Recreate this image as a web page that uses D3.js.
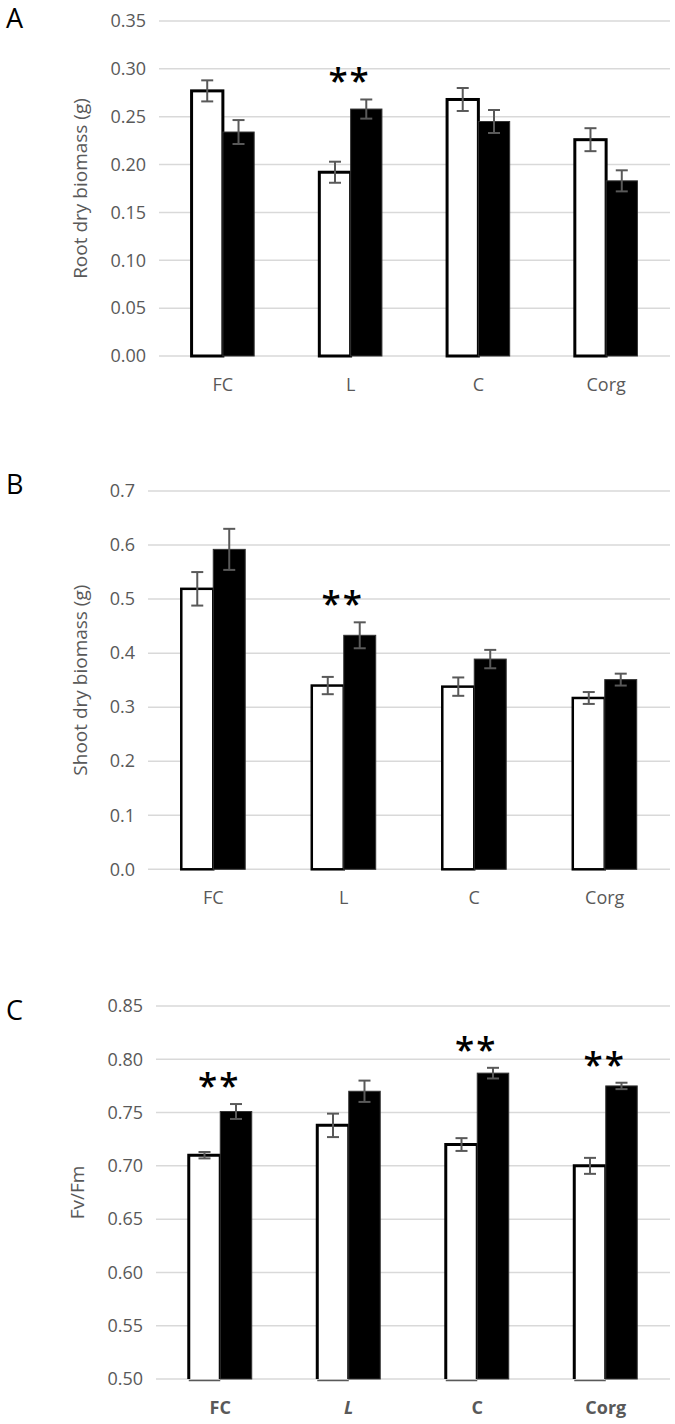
<!DOCTYPE html>
<html><head><meta charset="utf-8">
<script src="https://cdn.jsdelivr.net/npm/d3@7"></script>
<style>
html,body{margin:0;padding:0;background:#fff;}
svg{display:block;font-family:"Open Sans",sans-serif;}
</style></head>
<body>
<svg id="chart" width="675" height="1424"></svg>
<script>
// ---- data ----
const categories = ["FC", "L", "C", "Corg"];

const rootWhite = [0.277, 0.192, 0.268, 0.226];
const rootWhiteErr = [0.011, 0.011, 0.012, 0.012];
const rootBlack = [0.234, 0.258, 0.245, 0.183];
const rootBlackErr = [0.0125, 0.010, 0.012, 0.011];
const rootSignif = [false, true, false, false];
const rootTicks = [0, 0.05, 0.10, 0.15, 0.20, 0.25, 0.30, 0.35];

const shootWhite = [0.519, 0.340, 0.338, 0.317];
const shootWhiteErr = [0.031, 0.016, 0.017, 0.011];
const shootBlack = [0.592, 0.433, 0.389, 0.351];
const shootBlackErr = [0.038, 0.024, 0.017, 0.011];
const shootSignif = [false, true, false, false];
const shootTicks = [0, 0.1, 0.2, 0.3, 0.4, 0.5, 0.6, 0.7];

const fvfmWhite = [0.710, 0.738, 0.720, 0.700];
const fvfmWhiteErr = [0.003, 0.011, 0.006, 0.0075];
const fvfmBlack = [0.751, 0.770, 0.787, 0.775];
const fvfmBlackErr = [0.007, 0.010, 0.005, 0.003];
const fvfmSignif = [true, false, true, true];
const fvfmTicks = [0.50, 0.55, 0.60, 0.65, 0.70, 0.75, 0.80, 0.85];

const svg = d3.select("#chart");
const grey = "#595959";

function panel(cfg) {
  const g = svg.append("g");
  const x = d3.scaleBand().domain(categories).range([cfg.left, cfg.right]).padding(0);
  const y = d3.scaleLinear().domain([cfg.ticks[0], cfg.ticks[cfg.ticks.length - 1]]).range([cfg.bottom, cfg.top]);
  const bw = x.bandwidth() * 0.245;
  const y0 = y(cfg.ticks[0]);

  // gridlines
  g.selectAll("line.grid").data(cfg.ticks).join("line")
    .attr("x1", cfg.left).attr("x2", cfg.right)
    .attr("y1", d => y(d)).attr("y2", d => y(d))
    .attr("stroke", "#d9d9d9").attr("stroke-width", 1.5);

  // y axis tick labels via d3 axis
  const ax = g.append("g").attr("transform", `translate(${cfg.left},0)`)
    .call(d3.axisLeft(y).tickValues(cfg.ticks).tickFormat(d3.format(cfg.fmt)).tickSize(0).tickPadding(13));
  ax.select(".domain").remove();
  ax.selectAll("text").attr("font-size", 18).attr("fill", grey).attr("font-family", "Open Sans");

  const rows = categories.map((c, i) => ({
    c, w: cfg.white[i], we: cfg.whiteErr[i], b: cfg.black[i], be: cfg.blackErr[i], s: cfg.signif[i]
  }));
  const cx = d => x(d.c) + x.bandwidth() / 2;

  // white bars
  if (cfg.underline) {
    g.selectAll("rect.w").data(rows).join("rect")
      .attr("x", d => cx(d) - bw).attr("width", bw)
      .attr("y", d => y(d.w)).attr("height", d => y0 - y(d.w))
      .attr("fill", "#fff");
    g.selectAll("path.w").data(rows).join("path")
      .attr("d", d => `M${cx(d) - bw},${y0}V${y(d.w)}H${cx(d)}V${y0}`)
      .attr("fill", "none").attr("stroke", "#000").attr("stroke-width", cfg.stroke);
    g.selectAll("line.ul").data(rows).join("line")
      .attr("x1", d => cx(d) - bw).attr("x2", d => cx(d))
      .attr("y1", y0 + 1.5).attr("y2", y0 + 1.5)
      .attr("stroke", grey).attr("stroke-width", 1.5);
  } else {
    g.selectAll("rect.w").data(rows).join("rect")
      .attr("x", d => cx(d) - bw).attr("width", bw)
      .attr("y", d => y(d.w)).attr("height", d => y0 - y(d.w))
      .attr("fill", "#fff").attr("stroke", "#000").attr("stroke-width", cfg.stroke);
  }
  // black bars
  g.selectAll("rect.b").data(rows).join("rect")
    .attr("x", d => cx(d)).attr("width", bw)
    .attr("y", d => y(d.b)).attr("height", d => y0 - y(d.b))
    .attr("fill", "#000").attr("stroke", "#333").attr("stroke-width", 1);

  // error bars
  const errs = [];
  rows.forEach(d => {
    errs.push({ x: cx(d) - bw / 2, v: d.w, e: d.we });
    errs.push({ x: cx(d) + bw / 2, v: d.b, e: d.be });
  });
  const eg = g.selectAll("g.err").data(errs).join("g").attr("stroke", grey).attr("stroke-width", 2);
  eg.append("line").attr("x1", d => d.x).attr("x2", d => d.x).attr("y1", d => y(d.v - d.e)).attr("y2", d => y(d.v + d.e));
  eg.append("line").attr("x1", d => d.x - 6).attr("x2", d => d.x + 6).attr("y1", d => y(d.v - d.e)).attr("y2", d => y(d.v - d.e));
  eg.append("line").attr("x1", d => d.x - 6).attr("x2", d => d.x + 6).attr("y1", d => y(d.v + d.e)).attr("y2", d => y(d.v + d.e));

  // significance stars
  g.selectAll("text.star").data(rows.filter(d => d.s)).join("text")
    .attr("x", d => cx(d) - 1).attr("y", d => y(d.b + d.be) - 6)
    .attr("text-anchor", "middle").attr("font-size", 35).attr("font-weight", 600)
    .attr("letter-spacing", 2).attr("font-family", "Open Sans")
    .text("**");

  // x labels
  g.selectAll("text.xl").data(rows).join("text")
    .attr("x", d => cx(d)).attr("y", cfg.bottom + 28)
    .attr("text-anchor", "middle").attr("dominant-baseline", "central")
    .attr("font-size", 18).attr("fill", grey)
    .attr("font-weight", cfg.bold ? 700 : 400)
    .attr("font-style", d => (cfg.bold && d.c === "L") ? "italic" : "normal")
    .text(d => d.c);

  // y title
  g.append("text")
    .attr("transform", `translate(${cfg.titleX},${(cfg.top + cfg.bottom) / 2}) rotate(-90)`)
    .attr("text-anchor", "middle").attr("dominant-baseline", "central")
    .attr("font-size", 19).attr("fill", grey).text(cfg.title);

  // panel letter
  g.append("text").attr("x", 6).attr("y", cfg.letterY)
    .attr("dominant-baseline", "central").attr("font-size", 27).attr("fill", "#000")
    .text(cfg.letter);
}

panel({ left: 159, right: 670, top: 21, bottom: 356, ticks: rootTicks, fmt: ".2f",
  white: rootWhite, whiteErr: rootWhiteErr, black: rootBlack, blackErr: rootBlackErr, signif: rootSignif,
  stroke: 3, title: "Root dry biomass (g)", titleX: 80, letter: "A", letterY: 17 });

panel({ left: 148, right: 670, top: 491, bottom: 869.3, ticks: shootTicks, fmt: ".1f",
  white: shootWhite, whiteErr: shootWhiteErr, black: shootBlack, blackErr: shootBlackErr, signif: shootSignif,
  stroke: 2.5, title: "Shoot dry biomass (g)", titleX: 80, letter: "B", letterY: 483 });

panel({ left: 156, right: 670, top: 1006, bottom: 1379, ticks: fvfmTicks, fmt: ".2f",
  white: fvfmWhite, whiteErr: fvfmWhiteErr, black: fvfmBlack, blackErr: fvfmBlackErr, signif: fvfmSignif,
  stroke: 3, title: "Fv/Fm", titleX: 77, letter: "C", letterY: 1009, bold: true, underline: true });
</script>
</body></html>
